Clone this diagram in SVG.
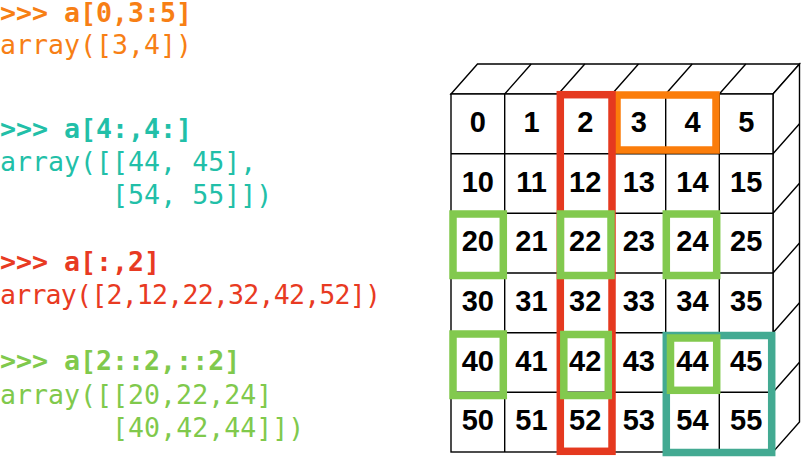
<svg xmlns="http://www.w3.org/2000/svg" width="801" height="457" viewBox="0 0 801 457">
<style>
.code{font-family:"DejaVu Sans Mono","Liberation Mono",monospace;font-size:26.6px}
.b{font-weight:bold}
.or{fill:#F77F15}
.te{fill:#22BFA8}
.re{fill:#E83A22}
.gr{fill:#80C94C}
.ln{stroke:#000;stroke-width:1.4;fill:none}
.face{fill:#fff;stroke:#000;stroke-width:1.4}
.num{font-family:"Liberation Sans",Arial,sans-serif;font-weight:bold;font-size:29px;text-anchor:middle;fill:#000}
.hl{fill:none;stroke-width:7.5}
</style>
<rect width="801" height="457" fill="#fff"/>
<g id="code">
<text class="code b or" x="0" y="22">&gt;&gt;&gt; a[0,3:5]</text>
<text class="code or" x="0" y="54">array([3,4])</text>
<text class="code b te" x="0" y="138">&gt;&gt;&gt; a[4:,4:]</text>
<text class="code te" x="0" y="171">array([[44, 45],</text>
<text class="code te" x="112.1" y="204">[54, 55]])</text>
<text class="code b re" x="0" y="271">&gt;&gt;&gt; a[:,2]</text>
<text class="code re" x="0" y="304" textLength="381" lengthAdjust="spacing">array([2,12,22,32,42,52])</text>
<text class="code b gr" x="0" y="370">&gt;&gt;&gt; a[2::2,::2]</text>
<text class="code gr" x="0" y="404">array([[20,22,24]</text>
<text class="code gr" x="112.1" y="437">[40,42,44]])</text>
</g>
<g id="cube">
<polygon class="face" points="451,94 477.5,64 799.5,64 773,94"/>
<polygon class="face" points="773,94 799.5,64 799.5,422 773,452"/>
<rect class="face" x="451" y="94" width="322" height="358"/>
<path class="ln" d="M504.7,94 L531.2,64 M558.3,94 L584.8,64 M612,94 L638.5,64 M665.7,94 L692.2,64 M719.3,94 L745.8,64 M773,153.7 L799.5,123.7 M773,213.3 L799.5,183.3 M773,273 L799.5,243 M773,332.7 L799.5,302.7 M773,392.3 L799.5,362.3 M504.7,94 V452 M558.3,94 V452 M612,94 V452 M665.7,94 V452 M719.3,94 V452 M451,153.7 H773 M451,213.3 H773 M451,273 H773 M451,332.7 H773 M451,392.3 H773"/>
</g>
<g id="cells">
<text class="num" x="477.8" y="132">0</text><text class="num" x="531.5" y="132">1</text><text class="num" x="585.2" y="132">2</text><text class="num" x="638.8" y="132">3</text><text class="num" x="692.5" y="132">4</text><text class="num" x="746.2" y="132">5</text>
<text class="num" x="477.8" y="191.7">10</text><text class="num" x="531.5" y="191.7">11</text><text class="num" x="585.2" y="191.7">12</text><text class="num" x="638.8" y="191.7">13</text><text class="num" x="692.5" y="191.7">14</text><text class="num" x="746.2" y="191.7">15</text>
<text class="num" x="477.8" y="251.3">20</text><text class="num" x="531.5" y="251.3">21</text><text class="num" x="585.2" y="251.3">22</text><text class="num" x="638.8" y="251.3">23</text><text class="num" x="692.5" y="251.3">24</text><text class="num" x="746.2" y="251.3">25</text>
<text class="num" x="477.8" y="311">30</text><text class="num" x="531.5" y="311">31</text><text class="num" x="585.2" y="311">32</text><text class="num" x="638.8" y="311">33</text><text class="num" x="692.5" y="311">34</text><text class="num" x="746.2" y="311">35</text>
<text class="num" x="477.8" y="370.7">40</text><text class="num" x="531.5" y="370.7">41</text><text class="num" x="585.2" y="370.7">42</text><text class="num" x="638.8" y="370.7">43</text><text class="num" x="692.5" y="370.7">44</text><text class="num" x="746.2" y="370.7">45</text>
<text class="num" x="477.8" y="430.3">50</text><text class="num" x="531.5" y="430.3">51</text><text class="num" x="585.2" y="430.3">52</text><text class="num" x="638.8" y="430.3">53</text><text class="num" x="692.5" y="430.3">54</text><text class="num" x="746.2" y="430.3">55</text>
</g>
<g id="highlights">
<rect id="hl-orange" class="hl" stroke="#FB7D0B" x="617" y="95" width="99" height="55"/>
<rect id="hl-red" class="hl" stroke="#E5391F" x="560.3" y="94.7" width="51.7" height="356.6"/>
<rect id="hl-teal" class="hl" stroke="#43AA92" x="666.3" y="335.5" width="105.4" height="117"/>
<g id="hl-green" class="hl" stroke="#82C94E" stroke-width="8.5">
<rect x="453" y="214" width="50.3" height="61.5"/>
<rect x="560.5" y="214" width="50.5" height="61.5"/>
<rect x="666.3" y="214" width="50.4" height="61.5"/>
<rect x="453" y="334" width="50.3" height="61.5"/>
<rect x="563.8" y="334.5" width="44.5" height="61"/>
<rect x="670.5" y="338" width="46.2" height="52.3"/>
</g>
</g>
</svg>
